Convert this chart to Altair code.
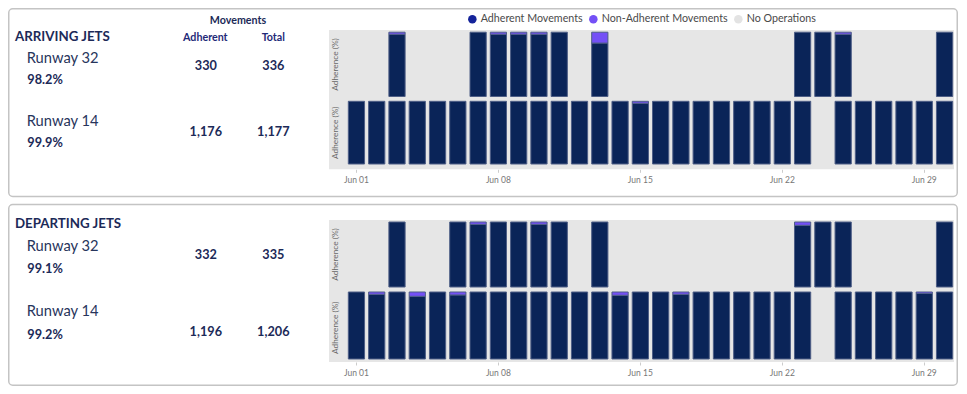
import altair as alt
import pandas as pd

# ---------------- data ----------------
days = ["Jun 01", "Jun 02", "Jun 03", "Jun 04", "Jun 05", "Jun 06", "Jun 07", "Jun 08",
        "Jun 09", "Jun 10", "Jun 11", "Jun 12", "Jun 13", "Jun 14", "Jun 15", "Jun 16",
        "Jun 17", "Jun 18", "Jun 19", "Jun 20", "Jun 21", "Jun 22", "Jun 23", "Jun 24",
        "Jun 25", "Jun 26", "Jun 27", "Jun 28", "Jun 29", "Jun 30"]
tick_days = ["Jun 01", "Jun 08", "Jun 15", "Jun 22", "Jun 29"]

N = None  # no operations that day
# share of non-adherent movements per day (%)
arr_rwy32_nonadh = [N, N, 3.1, N, N, N, 0, 3.1, 3.1, 3.1, 0, N, 16.9, N, N,
                    N, N, N, N, N, N, N, 0, 0, 3.1, N, N, N, N, 0]
arr_rwy14_nonadh = [0, 0, 0, 0, 0, 0, 0, 0, 0, 0, 0, 0, 0, 0, 3.0,
                    0, 0, 0, 0, 0, 0, 0, 0, N, 0, 0, 0, 0, 0, 0]
dep_rwy32_nonadh = [N, N, 0, N, N, 0, 3.6, 0, 0, 3.6, 0, N, 0, N, N,
                    N, N, N, N, N, N, N, 5.1, 0, 0, N, N, N, N, 0]
dep_rwy14_nonadh = [0, 3.4, 0, 6.4, 0, 4.4, 0, 0, 0, 0, 0, 0, 0, 4.9, 0,
                    0, 3.4, 0, 0, 0, 0, 0, 0, N, 0, 0, 0, 0, 2.0, 0]

card_titles = ["ARRIVING JETS", "DEPARTING JETS"]
runways = ["Runway 32", "Runway 14"]
adherence_pct = [[98.2, 99.9], [99.1, 99.2]]
adherent_moves = [[330, 1176], [332, 1196]]
total_moves = [[336, 1177], [335, 1206]]

legend_labels = ["Adherent Movements", "Non-Adherent Movements", "No Operations"]

# ---------------- styles ----------------
FONT = "Segoe UI, Lato, sans-serif"
NAVY = "#0A2458"
PURPLE = "#7450F6"
BG = "#E6E6E6"
TXT = "#1C2A58"
HDR = "#1F2A78"
legend_colors = ["#14239A", PURPLE, "#E3E3E3"]

W, H = 950, 378

rows = []
for key, lst in [("arr32", arr_rwy32_nonadh), ("arr14", arr_rwy14_nonadh),
                 ("dep32", dep_rwy32_nonadh), ("dep14", dep_rwy14_nonadh)]:
    for d, p in zip(days, lst):
        if p is None:
            continue
        rows.append({"series": key, "day": d, "status": "Adherent", "value": 100 - p, "ord": 0})
        if p > 0:
            rows.append({"series": key, "day": d, "status": "Non-Adherent", "value": p, "ord": 1})
df = pd.DataFrame(rows)

one = alt.Data(values=[{}])


def text(t, x, y, size, weight="normal", color=TXT, align="left", angle=0):
    return alt.Chart(one).mark_text(
        text=t, fontSize=size, fontWeight=weight, color=color, align=align,
        baseline="middle", font=FONT, angle=angle
    ).encode(x=alt.value(x), y=alt.value(y))


def rect(x, x2, y, y2, fill, stroke=None, sw=0, radius=0):
    kw = dict(fill=fill, cornerRadius=radius, strokeWidth=sw)
    if stroke:
        kw["stroke"] = stroke
    return alt.Chart(one).mark_rect(**kw).encode(
        x=alt.value(x), x2=alt.value(x2), y=alt.value(y), y2=alt.value(y2))


def bars(key, y_range, axis_offset=None):
    if axis_offset is None:
        axis = None
    else:
        axis = alt.Axis(values=tick_days, orient="bottom", offset=axis_offset, domain=False,
                        grid=False, tickSize=3, tickColor="#cccccc", labelColor="#777777",
                        labelFontSize=8.5, labelFont=FONT, labelPadding=3.5, title=None,
                        labelAngle=0, zindex=2)
    return alt.Chart(df).transform_filter(alt.datum.series == key).mark_bar(
        stroke="#4E5E86", strokeWidth=1
    ).encode(
        x=alt.X("day:O", sort=days,
                scale=alt.Scale(domain=days, range=[338.3, 946.7], paddingInner=0.2, paddingOuter=0.1),
                axis=axis),
        y=alt.Y("value:Q", stack="zero",
                scale=alt.Scale(domain=[0, 100], range=y_range, nice=False, zero=True), axis=None),
        color=alt.Color("status:N", scale=alt.Scale(domain=["Adherent", "Non-Adherent"],
                                                    range=[NAVY, PURPLE]), legend=None),
        order=alt.Order("ord:Q"),
    )


layers = []
# cards
layers.append(rect(0.75, W - 0.75, 0.75, 188.5, "white", "#C4C4C4", 1.5, 4))
layers.append(rect(0.75, W - 0.75, 196.5, H - 0.75, "white", "#C4C4C4", 1.5, 4))

# left text panels
for c in range(2):
    oy = 0 if c == 0 else 187
    layers.append(text(card_titles[c], 7, 28.7 + oy, 13.3, "bold", TXT))
    if c == 0:
        layers.append(text("Movements", 230, 13, 10.7, "bold", TXT, "center"))
        layers.append(text("Adherent", 197.3, 29.7, 10.7, "bold", HDR, "center"))
        layers.append(text("Total", 265.3, 29.7, 10.7, "bold", HDR, "center"))
    ry = [[51, 72, 58], [114.3, 135.3, 123.7]] if c == 0 else [[238.7, 261, 247.3], [303.7, 327, 323.7]]
    for r in range(2):
        layers.append(text(runways[r], 18.7, ry[r][0], 14.7, "normal", "#27355C"))
        layers.append(text(f"{adherence_pct[c][r]:.1f}%", 19.3, ry[r][1], 12.7, "bold", TXT))
        layers.append(text(f"{adherent_moves[c][r]:,}", 197.8, ry[r][2], 12.7, "bold", TXT, "center"))
        layers.append(text(f"{total_moves[c][r]:,}", 265.3, ry[r][2], 12.7, "bold", TXT, "center"))

# chart backgrounds
layers.append(rect(321, 946, 22, 161.3, BG))
layers.append(rect(321, 946, 212, 354, BG))

# y titles
for yc in [56.5, 124.7, 246.5, 319.7]:
    layers.append(text("Adherence (%)", 327.8, yc, 8.3, "normal", "#666666", "center", 270))

# bars
layers.append(bars("arr32", [88.5, 24.2]))
layers.append(bars("arr14", [156, 93.3], axis_offset=161.3 - H))
layers.append(bars("dep32", [279, 214]))
layers.append(bars("dep14", [351, 284], axis_offset=354 - H))

# legend
legend_layer = alt.Chart(pd.DataFrame({"status": legend_labels})).transform_filter("false").mark_circle().encode(
    x=alt.value(0), y=alt.value(0),
    color=alt.Color("status:N", scale=alt.Scale(domain=legend_labels, range=legend_colors),
                    legend=alt.Legend(orient="none", legendX=459, legendY=5.5, direction="horizontal",
                                      title=None, symbolType="circle", symbolSize=72,
                                      labelFontSize=10.7, labelFont=FONT, labelColor="#4A4A4A",
                                      columnPadding=5, labelOffset=3, symbolStrokeWidth=0,
                                      symbolOpacity=1, labelLimit=300))
)
layers.append(legend_layer)

chart = alt.layer(*layers).resolve_scale(
    x="independent", y="independent", color="independent"
).properties(
    width=W, height=H, padding=0, autosize=alt.AutoSizeParams(type="none")
).configure_view(stroke=None)

chart.save("out.html", embed_options={"renderer": "svg", "actions": False})
